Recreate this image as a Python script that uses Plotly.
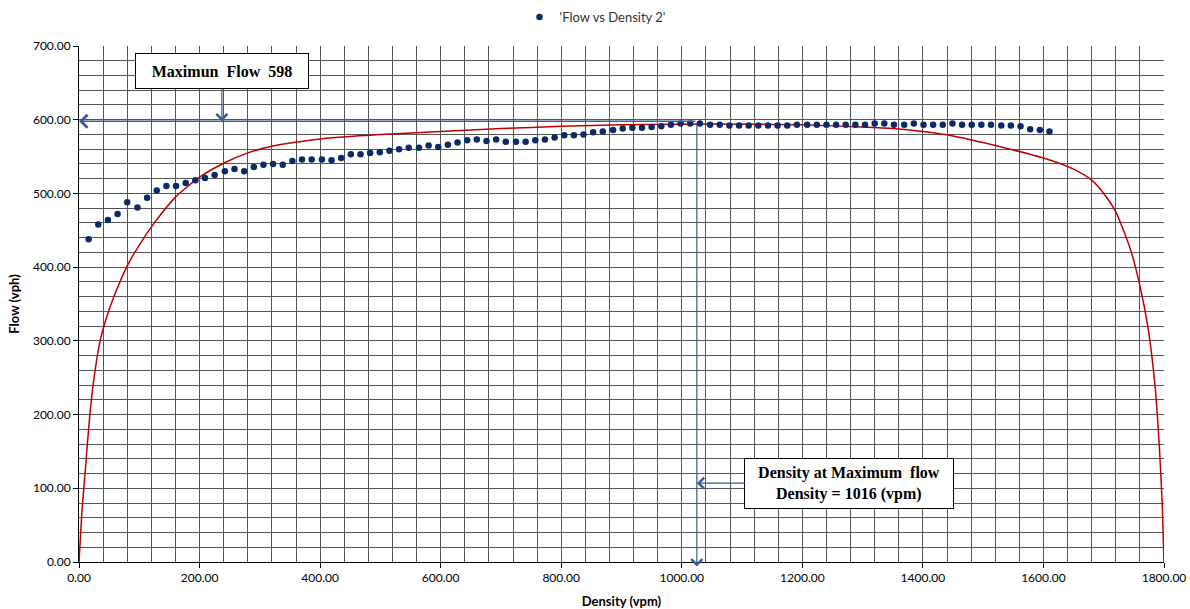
import plotly.graph_objects as go

# ---- observed data (blue dots) ----
density = [16, 32, 48, 64, 80, 97, 113, 129, 145, 161, 177, 193, 209, 225, 242, 258, 274, 290, 306, 322,
           338, 354, 370, 386, 403, 419, 435, 451, 467, 483, 499, 515, 531, 547, 564, 580, 596, 612, 628, 644,
           660, 676, 692, 708, 725, 741, 757, 773, 789, 805, 821, 837, 853, 869, 886, 902, 918, 934, 950, 966,
           982, 998, 1014, 1030, 1047, 1063, 1079, 1095, 1111, 1127, 1143, 1159, 1175, 1191, 1208, 1224, 1240, 1256, 1272, 1288,
           1304, 1320, 1336, 1352, 1369, 1385, 1401, 1417, 1433, 1449, 1465, 1481, 1497, 1513, 1530, 1546, 1562, 1578, 1594, 1610]
flow = [438, 458, 464, 472, 488, 481, 494, 504, 510, 510, 514, 518, 521, 525, 530, 533, 530, 536, 539, 540,
        539, 544, 546, 546, 546, 545, 548, 553, 553, 555, 556, 558, 560, 562, 562, 565, 563, 566, 569, 572,
        573, 571, 573, 570, 570, 570, 572, 573, 576, 579, 579, 580, 583, 584, 586, 588, 589, 589, 590, 591,
        593, 595, 595, 595, 593, 593, 592, 592, 592, 592, 592, 592, 592, 593, 593, 593, 593, 593, 593, 593,
        593, 595, 595, 593, 593, 595, 593, 593, 593, 595, 593, 593, 593, 593, 592, 592, 591, 587, 586, 584]

# ---- fitted curve (red line) ----
curve_density = [0, 5, 10, 18, 25, 35, 45, 57, 79, 100, 125, 160, 200, 240, 280, 320, 400, 500, 600, 700,
                 800, 900, 1000, 1100, 1200, 1300, 1350, 1400, 1450, 1500, 1550, 1600, 1650, 1680, 1700, 1720,
                 1744, 1760, 1774, 1785, 1792, 1797, 1800]
curve_flow = [0, 70, 120, 200, 250, 300, 330, 358, 400, 430, 460, 495, 522, 541, 555, 564, 574, 580, 584, 588,
              591, 593, 594, 594, 593, 590, 588, 584, 578, 569, 559, 548, 533, 518, 500, 475,
              425, 375, 315, 240, 160, 80, 0]

max_flow = 598
density_at_max = 1025
x_ticks = [0, 200, 400, 600, 800, 1000, 1200, 1400, 1600, 1800]
y_ticks = [0, 100, 200, 300, 400, 500, 600, 700]

ARROW = "#3b5b92"
GRID = "#555555"
tickfont = dict(family="Lato, Liberation Sans, sans-serif", size=12, color="#000000")
titlefont = dict(family="Lato, Liberation Sans, sans-serif", size=13, color="#000000")

fig = go.Figure()
fig.add_trace(go.Scatter(
    x=curve_density, y=curve_flow, mode="lines", line=dict(color="#c00000", width=1.5, shape="spline", smoothing=0.6),
    showlegend=False, hoverinfo="skip"))
fig.add_trace(go.Scatter(
    x=density, y=flow, mode="markers", name="'Flow vs Density 2'",
    marker=dict(color="#0b2a68", size=6.5)))

# arrows
fig.add_annotation(x=0, y=max_flow, ax=density_at_max, ay=max_flow, xref="x", yref="y", axref="x", ayref="y",
                   text="", showarrow=True, arrowhead=4, arrowsize=1.8, arrowwidth=1.4, arrowcolor=ARROW)
fig.add_annotation(x=density_at_max, y=-6, ax=density_at_max, ay=max_flow, xref="x", yref="y", axref="x", ayref="y",
                   text="", showarrow=True, arrowhead=4, arrowsize=1.8, arrowwidth=1.2, arrowcolor=ARROW)

boxfont = dict(family="Liberation Serif, Times New Roman, serif", size=16, color="#000000")
fig.add_annotation(x=237, y=max_flow, ax=237, ay=666, xref="x", yref="y", axref="x", ayref="y",
                   text="<b>Maximun  Flow  598</b>", font=boxfont, showarrow=True, arrowhead=4, arrowsize=1.8,
                   arrowwidth=1.2, arrowcolor=ARROW, bgcolor="white", bordercolor="#000000", borderwidth=1,
                   width=168, height=30, borderpad=2)
fig.add_annotation(x=density_at_max, y=107, ax=1278, ay=107, xref="x", yref="y", axref="x", ayref="y",
                   text="<b>Density at Maximum  flow<br>Density = 1016 (vpm)</b>", font=boxfont, showarrow=True,
                   arrowhead=4, arrowsize=1.8, arrowwidth=1.2, arrowcolor=ARROW, bgcolor="white",
                   bordercolor="#000000", borderwidth=1, width=204, height=45, borderpad=2)

fig.update_layout(
    width=1190, height=609, margin=dict(l=79, r=26, t=46, b=47),
    paper_bgcolor="white", plot_bgcolor="white",
    showlegend=True,
    legend=dict(orientation="h", x=0.5, xanchor="center", xref="container", y=1 - 17 / 609, yanchor="middle",
                yref="container", itemwidth=30,
                font=dict(family="Lato, Liberation Sans, sans-serif", size=13, color="#333333"),
                bgcolor="rgba(0,0,0,0)"),
    xaxis=dict(range=[0, 1800], tickvals=x_ticks, tickformat=".2f", tickfont=tickfont, automargin=False,
               showgrid=True, gridcolor=GRID, gridwidth=1,
               minor=dict(dtick=40, showgrid=True, gridcolor=GRID, gridwidth=1),
               showline=True, linecolor="black", linewidth=1, zeroline=False,
               ticks="outside", ticklen=5, tickcolor="black",
               title=dict(text="<b>Density (vpm)</b>", font=titlefont, standoff=12)),
    yaxis=dict(range=[0, 700], tickvals=y_ticks, tickformat=".2f", tickfont=tickfont, automargin=False,
               showgrid=True, gridcolor=GRID, gridwidth=1,
               minor=dict(dtick=20, showgrid=True, gridcolor=GRID, gridwidth=1),
               showline=True, linecolor="black", linewidth=1, zeroline=False,
               ticks="outside", ticklen=5, tickcolor="black",
               title=dict(text="<b>Flow (vph)</b>", font=titlefont, standoff=10)),
)

fig.write_html("out.html")
